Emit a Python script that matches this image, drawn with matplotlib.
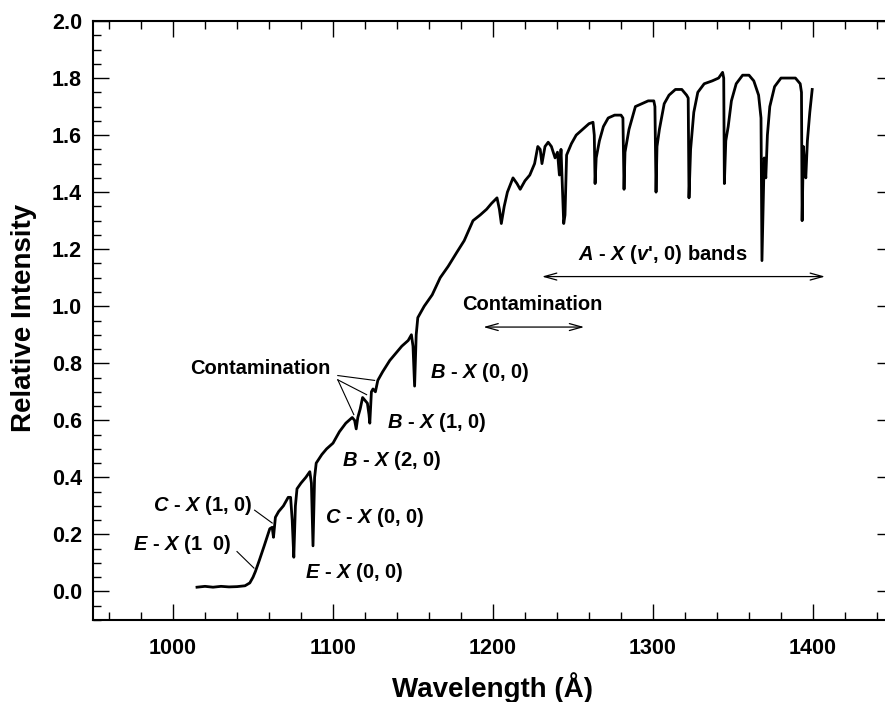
import matplotlib
matplotlib.use("Agg")
import matplotlib.pyplot as plt
from matplotlib.ticker import MultipleLocator

plt.rcParams['font.family'] = ['Liberation Sans', 'DejaVu Sans']
plt.rcParams['font.weight'] = 'bold'
plt.rcParams['mathtext.fontset'] = 'custom'
plt.rcParams['mathtext.it'] = 'Liberation Sans:italic:bold'
plt.rcParams['mathtext.rm'] = 'Liberation Sans:bold'

# spectrum (wavelength in A, relative intensity)
wavelength = [1015, 1020, 1025, 1030, 1035, 1040, 1045, 1048, 1050, 1051.5,
              1054, 1057, 1060.5, 1062, 1062.8, 1064, 1066, 1069, 1072, 1073.5,
              1074.5, 1075.5, 1076.5, 1077.5, 1080, 1083, 1085.5, 1086.5, 1087.5, 1088.5,
              1089.5, 1093, 1096, 1100, 1104, 1108, 1112, 1113.5, 1114.5, 1115.5,
              1117, 1118.5, 1120, 1121.5, 1122.5, 1123, 1124, 1125, 1126.5, 1128,
              1131, 1135.5, 1140, 1143, 1147, 1149, 1150, 1151, 1152, 1153,
              1157, 1162, 1167, 1172, 1177.5, 1182, 1187.5, 1192, 1196, 1199,
              1202.5, 1204, 1205.2, 1207, 1209, 1212.5, 1215, 1217, 1220, 1223,
              1226, 1228, 1229.5, 1230.6, 1232.5, 1234.5, 1236.5, 1238.8, 1240.3, 1241.5,
              1242.5, 1243.5, 1244.2, 1245, 1246, 1249, 1252, 1256, 1260, 1262.5,
              1263.3, 1263.8, 1264.5, 1266.5, 1269, 1272, 1276, 1280, 1281.2, 1281.9,
              1282.5, 1285, 1289, 1293, 1297, 1300.5, 1301.2, 1301.9, 1302.5, 1304,
              1307, 1310, 1314, 1318, 1321, 1322, 1322.5, 1323.5, 1325.5, 1328,
              1332, 1337, 1341, 1343.5, 1344.2, 1344.6, 1345.5, 1347, 1349, 1352,
              1356, 1360, 1363, 1366, 1367.5, 1368.1, 1369.5, 1370.5, 1371.5, 1373,
              1376, 1380, 1385, 1389, 1392, 1392.8, 1393.2, 1394, 1395, 1395.5,
              1396.5, 1398, 1399.5]
intensity = [0.015, 0.018, 0.015, 0.018, 0.016, 0.017, 0.02, 0.03, 0.05, 0.07,
             0.11, 0.16, 0.22, 0.225, 0.19, 0.26, 0.28, 0.30, 0.33, 0.33,
             0.25, 0.12, 0.30, 0.36, 0.38, 0.40, 0.42, 0.38, 0.16, 0.40,
             0.45, 0.48, 0.50, 0.52, 0.56, 0.59, 0.61, 0.60, 0.57, 0.61,
             0.64, 0.68, 0.67, 0.66, 0.62, 0.59, 0.70, 0.71, 0.70, 0.74,
             0.77, 0.81, 0.84, 0.86, 0.88, 0.90, 0.86, 0.72, 0.90, 0.96,
             1.00, 1.04, 1.10, 1.14, 1.19, 1.23, 1.30, 1.32, 1.34, 1.36,
             1.38, 1.34, 1.29, 1.35, 1.40, 1.45, 1.43, 1.41, 1.44, 1.46,
             1.50, 1.56, 1.55, 1.50, 1.56, 1.575, 1.56, 1.52, 1.54, 1.46,
             1.55, 1.40, 1.29, 1.32, 1.53, 1.57, 1.60, 1.62, 1.64, 1.645,
             1.60, 1.43, 1.52, 1.58, 1.63, 1.66, 1.67, 1.67, 1.66, 1.41,
             1.54, 1.62, 1.70, 1.71, 1.72, 1.72, 1.70, 1.40, 1.56, 1.62,
             1.71, 1.74, 1.76, 1.76, 1.74, 1.73, 1.38, 1.55, 1.68, 1.75,
             1.78, 1.79, 1.80, 1.82, 1.80, 1.43, 1.58, 1.63, 1.72, 1.78,
             1.81, 1.81, 1.79, 1.74, 1.66, 1.16, 1.52, 1.45, 1.60, 1.70,
             1.77, 1.80, 1.80, 1.80, 1.78, 1.75, 1.30, 1.56, 1.48, 1.45,
             1.58, 1.68, 1.76]

fig = plt.figure(figsize=(8.85, 7.02), dpi=100)
ax = fig.add_axes([93 / 885, 82 / 702, 800 / 885, 599 / 702])

ax.plot(wavelength, intensity, color='black', lw=2.0)

ax.set_xlim(950, 1450)
ax.set_ylim(-0.1, 2.0)
ax.xaxis.set_major_locator(MultipleLocator(100))
ax.xaxis.set_minor_locator(MultipleLocator(20))
ax.yaxis.set_major_locator(MultipleLocator(0.2))
ax.yaxis.set_minor_locator(MultipleLocator(0.05))
ax.yaxis.set_major_formatter(plt.FormatStrFormatter('%.1f'))
ax.tick_params(which='both', direction='in', top=True, right=True, width=1,
               labelsize=15.5)
ax.tick_params(which='major', length=11.5)
ax.tick_params(which='minor', length=5.5)
ax.tick_params(axis='x', pad=13)
ax.tick_params(axis='y', pad=8)
for s in ax.spines.values():
    s.set_linewidth(1.5)

fig.text(24 / 885, 1 - 318 / 702, 'Relative Intensity', rotation=90,
         ha='center', va='center', fontsize=20, fontweight='bold')
fig.text(493 / 885, 1 - 688 / 702, 'Wavelength (Å)',
         ha='center', va='center', fontsize=20, fontweight='bold')

# band labels
fs = 14.5
ax.text(1010.6, 0.78, 'Contamination', fontsize=fs, va='center')
ax.text(987.5, 0.30, r'$C$ - $X$ (1, 0)', fontsize=fs, va='center')
ax.text(975, 0.163, r'$E$ - $X$ (1  0)', fontsize=fs, va='center')
ax.text(1095, 0.26, r'$C$ - $X$ (0, 0)', fontsize=fs, va='center')
ax.text(1082.5, 0.068, r'$E$ - $X$ (0, 0)', fontsize=fs, va='center')
ax.text(1105.6, 0.46, r'$B$ - $X$ (2, 0)', fontsize=fs, va='center')
ax.text(1133.75, 0.592, r'$B$ - $X$ (1, 0)', fontsize=fs, va='center')
ax.text(1160.6, 0.766, r'$B$ - $X$ (0, 0)', fontsize=fs, va='center')
ax.text(1181, 1.006, 'Contamination', fontsize=fs, va='center')
ax.text(1253, 1.18, r"$A$ - $X$ ($v$', 0) bands", fontsize=fs, va='center')

# leader lines
ax.plot([1103, 1126], [0.757, 0.74], color='black', lw=0.8)
ax.plot([1103, 1121], [0.742, 0.69], color='black', lw=0.8)
ax.plot([1103, 1113], [0.742, 0.62], color='black', lw=0.8)
ax.plot([1051, 1062], [0.285, 0.24], color='black', lw=0.8)
ax.plot([1040, 1050.6], [0.14, 0.082], color='black', lw=0.8)

arrow = dict(arrowstyle='<->,head_length=0.9,head_width=0.25', lw=0.9,
             color='black', shrinkA=0, shrinkB=0)
ax.annotate('', xy=(1257, 0.927), xytext=(1194, 0.927), arrowprops=arrow)
ax.annotate('', xy=(1407.5, 1.104), xytext=(1230.6, 1.104), arrowprops=arrow)

fig.savefig('out.png', dpi=100)
